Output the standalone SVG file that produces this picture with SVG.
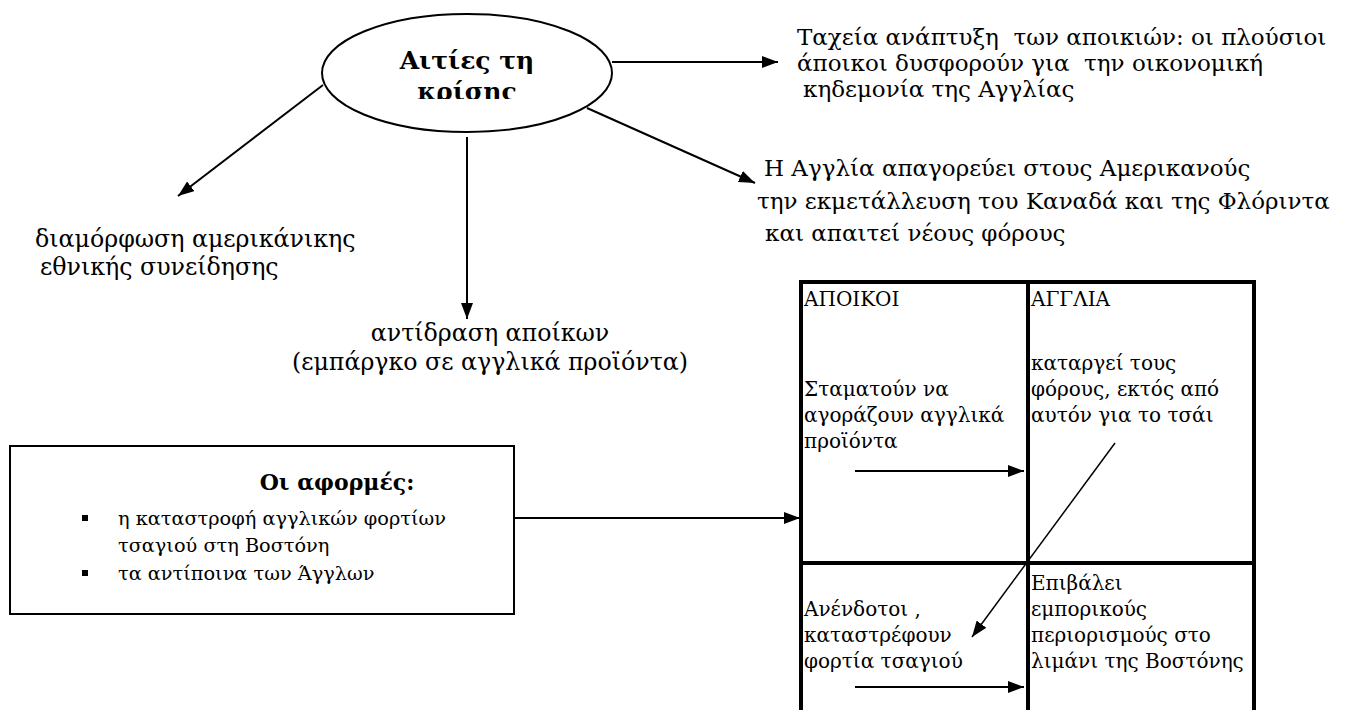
<svg xmlns="http://www.w3.org/2000/svg" width="1351" height="710" viewBox="0 0 1351 710">
<style>
  .t { font-family: "DejaVu Serif", "Liberation Serif", serif; font-size: 23px; fill: #000; white-space: pre; }
  .m { font-family: "DejaVu Serif", "Liberation Serif", serif; font-size: 23.7px; fill: #000; white-space: pre; }
  .s { font-family: "DejaVu Serif", "Liberation Serif", serif; font-size: 19.3px; fill: #000; white-space: pre; }
  .c { font-family: "DejaVu Serif", "Liberation Serif", serif; font-size: 20px; fill: #000; white-space: pre; }
  .b { font-family: "DejaVu Serif", "Liberation Serif", serif; font-weight: bold; fill: #000; }
  .ln { stroke: #000; stroke-width: 2; fill: none; }
  .thin { stroke: #000; stroke-width: 1.5; fill: none; }
  .grid { stroke: #000; stroke-width: 4; fill: none; }
</style>
<defs>
  <marker id="ah" markerUnits="userSpaceOnUse" markerWidth="16" markerHeight="12" viewBox="0 0 16 12" refX="16" refY="6" orient="auto">
    <path d="M0,0 L16,6 L0,12 z" fill="#000"/>
  </marker>
  <clipPath id="clipTitle"><rect x="320" y="0" width="300" height="99"/></clipPath>
</defs>

<g id="node-causes">
  <ellipse cx="467" cy="73" rx="145" ry="59" fill="#fff" stroke="#000" stroke-width="2"/>
  <g clip-path="url(#clipTitle)">
    <text class="b" x="467" y="69" font-size="25" text-anchor="middle">Αιτίες τη</text>
    <text class="b" x="467" y="100" font-size="25" text-anchor="middle">κρίσης</text>
  </g>
</g>

<g id="node-growth">
  <text class="t" x="797" y="45">Ταχεία ανάπτυξη  των αποικιών: οι πλούσιοι</text>
  <text class="t" x="797" y="71">άποικοι δυσφορούν για  την οικονομική</text>
  <text class="t" x="803" y="97">κηδεμονία της Αγγλίας</text>
</g>

<g id="node-england">
  <text class="t" x="764" y="176">Η Αγγλία απαγορεύει στους Αμερικανούς</text>
  <text class="t" x="757" y="209">την εκμετάλλευση του Καναδά και της Φλόριντα</text>
  <text class="t" x="765" y="241">και απαιτεί νέους φόρους</text>
</g>

<g id="node-identity">
  <text class="m" x="35" y="247">διαμόρφωση αμερικάνικης</text>
  <text class="m" x="40" y="275">εθνικής συνείδησης</text>
</g>

<g id="node-reaction">
  <text class="m" x="490" y="341" text-anchor="middle">αντίδραση αποίκων</text>
  <text class="m" x="490" y="370" text-anchor="middle">(εμπάργκο σε αγγλικά προϊόντα)</text>
</g>

<g id="node-triggers">
  <rect x="10" y="446" width="504" height="168" fill="#fff" stroke="#000" stroke-width="2"/>
  <text class="b" x="337" y="490" font-size="22" text-anchor="middle">Οι αφορμές:</text>
  <rect x="82" y="515" width="6" height="6" fill="#000"/>
  <text class="s" x="118" y="525">η καταστροφή αγγλικών φορτίων</text>
  <text class="s" x="118" y="552">τσαγιού στη Βοστόνη</text>
  <rect x="82" y="570" width="6" height="6" fill="#000"/>
  <text class="s" x="118" y="580">τα αντίποινα των Άγγλων</text>
</g>

<g id="node-table">
  <line class="grid" x1="799" y1="282" x2="1256" y2="282"/>
  <line class="grid" x1="801" y1="280" x2="801" y2="710"/>
  <line class="grid" x1="1028" y1="280" x2="1028" y2="710"/>
  <line class="grid" x1="1254" y1="280" x2="1254" y2="710"/>
  <line class="grid" x1="801" y1="563" x2="1254" y2="563"/>
  <text class="c" x="804" y="306">ΑΠΟΙΚΟΙ</text>
  <text class="c" x="1031" y="306">ΑΓΓΛΙΑ</text>
  <text class="c" x="804" y="396">Σταματούν να</text>
  <text class="c" x="804" y="422">αγοράζουν αγγλικά</text>
  <text class="c" x="804" y="448">προϊόντα</text>
  <text class="c" x="1031" y="370">καταργεί τους</text>
  <text class="c" x="1031" y="396">φόρους, εκτός από</text>
  <text class="c" x="1031" y="422">αυτόν για το τσάι</text>
  <text class="c" x="804" y="616">Ανένδοτοι ,</text>
  <text class="c" x="804" y="642">καταστρέφουν</text>
  <text class="c" x="804" y="668">φορτία τσαγιού</text>
  <text class="c" x="1031" y="590">Επιβάλει</text>
  <text class="c" x="1031" y="616">εμπορικούς</text>
  <text class="c" x="1031" y="642">περιορισμούς στο</text>
  <text class="c" x="1031" y="668">λιμάνι της Βοστόνης</text>
</g>

<g id="connectors">
  <line class="ln" x1="612" y1="62" x2="778" y2="62" marker-end="url(#ah)"/>
  <line class="ln" x1="587" y1="108" x2="755" y2="183" marker-end="url(#ah)"/>
  <line class="ln" x1="323" y1="85" x2="178" y2="196" marker-end="url(#ah)"/>
  <line class="ln" x1="467" y1="137" x2="467" y2="319" marker-end="url(#ah)"/>
  <line class="ln" x1="514" y1="518" x2="800" y2="518" marker-end="url(#ah)"/>
  <line class="ln" x1="855" y1="471" x2="1024" y2="471" marker-end="url(#ah)"/>
  <line class="ln" x1="855" y1="687" x2="1024" y2="687" marker-end="url(#ah)"/>
  <line class="thin" x1="1115" y1="443" x2="972" y2="637" marker-end="url(#ah)"/>
</g>
</svg>
